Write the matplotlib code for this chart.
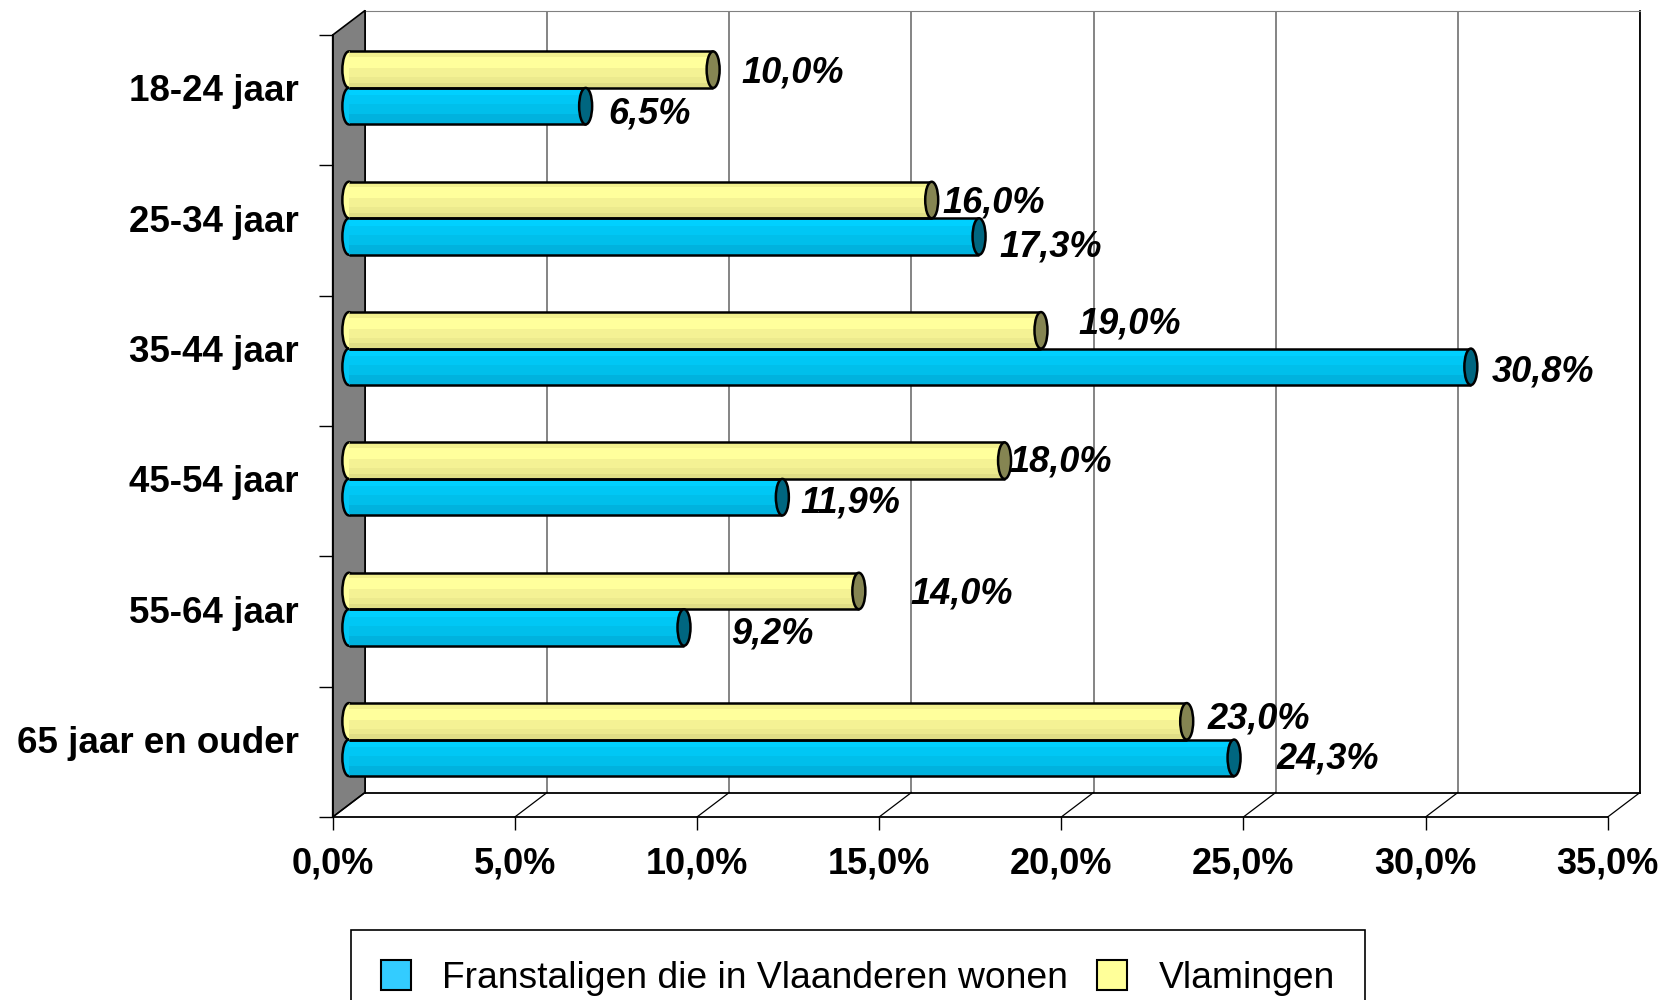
import matplotlib.pyplot as plt
import numpy as np
from matplotlib.patches import Ellipse, Patch, Polygon
from matplotlib.lines import Line2D

plt.rcParams['font.family'] = ['Liberation Sans', 'DejaVu Sans']

categories = ['18-24 jaar', '25-34 jaar', '35-44 jaar', '45-54 jaar', '55-64 jaar', '65 jaar en ouder']
franstaligen = [6.5, 17.3, 30.8, 11.9, 9.2, 24.3]
vlamingen = [10.0, 16.0, 19.0, 18.0, 14.0, 23.0]
series_names = ['Franstaligen die in Vlaanderen wonen', 'Vlamingen']
xticks = [0, 5, 10, 15, 20, 25, 30, 35]

# hand nudges (px) of the value labels, as placed in the original
nudge_vlamingen = [(8, 0), (-9, -1), (17, -10), (-15, -2), (32, -1), (1, -6)]
nudge_frans = [(3, 4), (0, 7), (1, 1), (-2, 2), (27, 3), (22, -3)]

W, H = 1661, 1000
fig = plt.figure(figsize=(W / 100, H / 100), dpi=100)


def plane(k):
    # depth plane k: 0 = front, 1 = back wall
    left = 332.7 + k * 32.3
    bottom = 817 - k * 24.5
    return [left / W, 1 - bottom / H, 1275 / W, 782 / H]


back = fig.add_axes(plane(1), zorder=0)
mid = fig.add_axes(plane(0.5), zorder=2)
front = fig.add_axes(plane(0), zorder=3)
for ax in (back, mid, front):
    ax.set_xlim(0, 35)
    ax.set_ylim(5.5, -0.5)

# back wall
back.set_xticks(xticks)
back.set_yticks([])
back.tick_params(length=0, labelbottom=False)
back.grid(axis='x', color='#707070', lw=1.2)
back.spines['top'].set_color('#808080')
for s in ('left', 'right', 'bottom'):
    back.spines[s].set_color('black')
    back.spines[s].set_linewidth(1.3)


def to_fig(ax, pt):
    return fig.transFigure.inverted().transform(ax.transData.transform(pt))


wall = [to_fig(front, (0, -0.5)), to_fig(back, (0, -0.5)),
        to_fig(back, (0, 5.5)), to_fig(front, (0, 5.5))]
fig.add_artist(Polygon(wall, closed=True, transform=fig.transFigure,
                       fc='#808080', ec='black', lw=1.2, zorder=1))
for v in xticks:
    p0 = to_fig(front, (v, 5.5))
    p1 = to_fig(back, (v, 5.5))
    fig.add_artist(Line2D([p0[0], p1[0]], [p0[1], p1[1]], transform=fig.transFigure,
                          color='black', lw=0.9, zorder=1))

# front axis: ticks and labels
front.set_facecolor('none')
front.spines['top'].set_visible(False)
front.spines['right'].set_visible(False)
front.spines['left'].set_linewidth(1.2)
front.spines['bottom'].set_linewidth(1.3)
front.set_xticks(xticks)
front.set_xticklabels([f"{v:.1f}%".replace('.', ',') for v in xticks],
                      fontsize=26, fontweight='bold')
front.set_yticks(np.arange(-0.5, len(categories)))
front.tick_params(axis='x', direction='out', length=9.4, width=1, pad=12)
front.tick_params(axis='y', direction='out', length=10, width=1, labelleft=False)

# bars
mid.set_facecolor('none')
for s in mid.spines.values():
    s.set_visible(False)
mid.set_xticks([])
mid.set_yticks(range(len(categories)))
mid.set_yticklabels(categories, fontsize=26.5, fontweight='bold')
mid.tick_params(axis='y', length=0, pad=36)

h = 0.28
capw = 13 / 36.43
yellow_stripes = [(0, .15, '#F2F08E'), (.15, .45, '#FFFF9C'), (.45, .70, '#F4F294'),
                  (.70, .86, '#ECEA8E'), (.86, 1, '#E0DE86')]
blue_stripes = [(0, .2, '#00D0FF'), (.2, .45, '#00C7F5'), (.45, .72, '#00BFEB'),
                (.72, 1, '#00B2DE')]

pos = np.arange(len(categories))
series = [(vlamingen, -h / 2, yellow_stripes, '#858552', nudge_vlamingen),
          (franstaligen, h / 2, blue_stripes, '#006680', nudge_frans)]
for vals, shift, stripes, capc, nudges in series:
    yc = pos + shift
    top = yc - h / 2
    for f0, f1, c in stripes:
        mid.barh(top + f0 * h, vals, height=(f1 - f0) * h, align='edge',
                 color=c, lw=0, zorder=2)
    mid.hlines(top, 0, vals, color='black', lw=1.8, zorder=3)
    mid.hlines(top + h, 0, vals, color='black', lw=1.8, zorder=3)
    for v, y, (ndx, ndy) in zip(vals, yc, nudges):
        mid.add_patch(Ellipse((0, y), capw, h, fc=stripes[1][2], ec='black',
                              lw=1.8, zorder=1, clip_on=False))
        mid.add_patch(Ellipse((v, y), capw, h, fc=capc, ec='black',
                              lw=1.8, zorder=4, clip_on=False))
        mid.annotate(f"{v:.1f}%".replace('.', ','), xy=(v, y),
                     xytext=(20 + ndx, -(13.2 + ndy)), textcoords='offset pixels',
                     ha='left', va='baseline', fontsize=26, fontweight='bold',
                     fontstyle='italic', annotation_clip=False)

handles = [Patch(fc='#33CCFF', ec='black', lw=1.5), Patch(fc='#FFFF99', ec='black', lw=1.5)]
leg = fig.legend(handles, series_names, loc='upper left',
                 bbox_to_anchor=(351 / W, 1 - 930 / H), ncol=2, fontsize=26.8,
                 frameon=True, fancybox=False, edgecolor='black', framealpha=1,
                 borderpad=0.8, handlelength=0.8, handleheight=0.86,
                 handletextpad=0.84, columnspacing=0.8, borderaxespad=0)
leg.get_frame().set_linewidth(1.2)

plt.savefig('out.png', dpi=100)
